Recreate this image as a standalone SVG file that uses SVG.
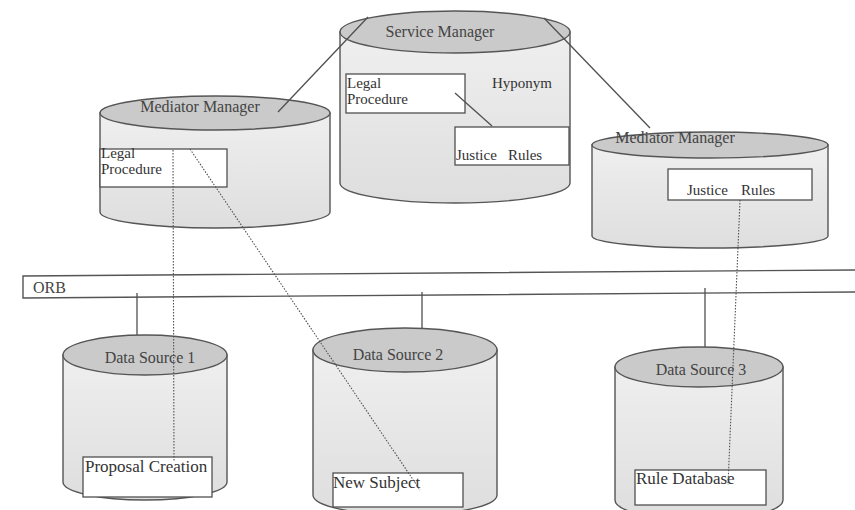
<svg xmlns="http://www.w3.org/2000/svg" width="855" height="510" viewBox="0 0 855 510">
  <defs>
    <linearGradient id="bodyFill" x1="0" y1="0" x2="0" y2="1">
      <stop offset="0" stop-color="#efefef"/>
      <stop offset="1" stop-color="#dedede"/>
    </linearGradient>
  </defs>
  <style>
    .body { fill: url(#bodyFill); stroke: #555555; stroke-width: 1.4; }
    .lid { fill: #cacaca; stroke: #555555; stroke-width: 1.4; }
    .box { fill: #ffffff; stroke: #505050; stroke-width: 1.3; }
    .title { font-family: "Liberation Serif", "Times New Roman", serif; font-size: 16px; fill: #444444; text-anchor: middle; }
    .lbl { font-family: "Liberation Serif", "Times New Roman", serif; font-size: 15px; fill: #333333; }
    .big { font-family: "Liberation Serif", "Times New Roman", serif; font-size: 17px; fill: #333333; }
    .orb { font-family: "Liberation Serif", "Times New Roman", serif; font-size: 16px; fill: #444444; }
    .solid { stroke: #505050; stroke-width: 1.3; fill: none; }
    .dots { stroke: #505050; stroke-width: 1.1; stroke-dasharray: 1.5 1.5; fill: none; }
  </style>
  <rect width="855" height="510" fill="#ffffff"/>

  <!-- ORB bus -->
  <g id="orb">
    <path d="M855,270 L23,276 L23,298 L855,292" fill="#ffffff" stroke="#555555" stroke-width="1.4"/>
    <text x="33" y="293" class="orb">ORB</text>
  </g>

  <!-- Service Manager -->
  <g id="service-manager">
    <path class="body" d="M340,32 L340,183 A115,20 0 0 0 570,183 L570,32 Z"/>
    <ellipse class="lid" cx="455" cy="32" rx="115" ry="21"/>
    <text x="440" y="37" class="title">Service Manager</text>
    <rect class="box" x="346" y="74" width="119" height="39"/>
    <text x="347" y="88" class="lbl">Legal</text>
    <text x="347" y="104" class="lbl">Procedure</text>
    <text x="492" y="88" class="lbl">Hyponym</text>
    <rect class="box" x="455" y="127" width="114" height="38"/>
    <text x="456" y="160" class="lbl">Justice</text>
    <text x="508" y="160" class="lbl">Rules</text>
  </g>

  <!-- Mediator Manager (left) -->
  <g id="mediator-left">
    <path class="body" d="M100,113 L100,212 A115,16 0 0 0 330,212 L330,113 Z"/>
    <ellipse class="lid" cx="215" cy="113" rx="115" ry="17"/>
    <text x="200" y="112" class="title">Mediator Manager</text>
    <rect class="box" x="100" y="149" width="127" height="38"/>
    <text x="101" y="158" class="lbl">Legal</text>
    <text x="101" y="174" class="lbl">Procedure</text>
  </g>

  <!-- Mediator Manager (right) -->
  <g id="mediator-right">
    <path class="body" d="M592,145 L592,236 A118,12 0 0 0 828,236 L828,145 Z"/>
    <ellipse class="lid" cx="710" cy="145" rx="118" ry="13"/>
    <text x="675" y="143" class="title">Mediator Manager</text>
    <rect class="box" x="668" y="169" width="144" height="31"/>
    <text x="687" y="195" class="lbl">Justice</text>
    <text x="741" y="195" class="lbl">Rules</text>
  </g>

  <!-- Data Source 1 -->
  <g id="data-source-1">
    <path class="body" d="M63,355 L63,482 A82,18 0 0 0 227,482 L227,355 Z"/>
    <ellipse class="lid" cx="145" cy="355" rx="82" ry="20"/>
    <text x="150" y="363" class="title">Data Source 1</text>
    <rect class="box" x="83" y="457" width="129" height="40"/>
    <text x="85" y="472" class="big">Proposal Creation</text>
  </g>

  <!-- Data Source 2 -->
  <g id="data-source-2">
    <path class="body" d="M313,350 L313,495 A92,20 0 0 0 497,495 L497,350 Z"/>
    <ellipse class="lid" cx="405" cy="350" rx="92" ry="22"/>
    <text x="398" y="360" class="title">Data Source 2</text>
    <rect class="box" x="333" y="473" width="130" height="34"/>
    <text x="333" y="488" class="big">New Subject</text>
  </g>

  <!-- Data Source 3 -->
  <g id="data-source-3">
    <path class="body" d="M615,367 L615,500 A84,20 0 0 0 783,500 L783,367 Z"/>
    <ellipse class="lid" cx="699" cy="367" rx="84" ry="20"/>
    <text x="701" y="375" class="title">Data Source 3</text>
    <rect class="box" x="635" y="470" width="131" height="35"/>
    <text x="636" y="484" class="big">Rule Database</text>
  </g>

  <!-- Connectors -->
  <g id="connectors">
    <line class="solid" x1="278" y1="112" x2="368" y2="17"/>
    <line class="solid" x1="544" y1="18" x2="650" y2="128"/>
    <line class="solid" x1="455" y1="93" x2="492" y2="126"/>
    <line class="solid" x1="137" y1="293" x2="137" y2="335"/>
    <line class="solid" x1="422" y1="292" x2="422" y2="328"/>
    <line class="solid" x1="705" y1="288" x2="705" y2="347"/>
    <line class="dots" x1="173" y1="150" x2="174" y2="462"/>
    <line class="dots" x1="190" y1="149" x2="420" y2="490"/>
    <line class="dots" x1="740" y1="200" x2="728" y2="485"/>
  </g>
</svg>
